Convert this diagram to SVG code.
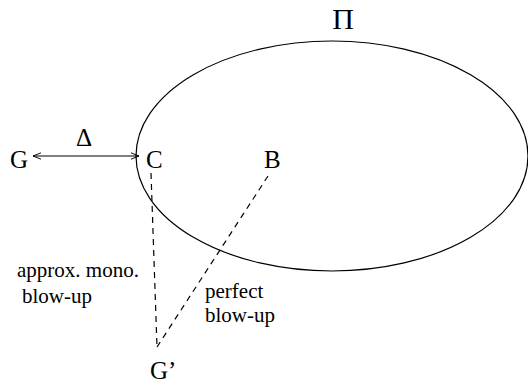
<svg xmlns="http://www.w3.org/2000/svg" width="528" height="387" viewBox="0 0 528 387">
<style>
.t{font-family:"Liberation Serif","Times New Roman",serif;fill:#000}
.big{font-size:25px}
.lbl{font-size:21px}
.ln{stroke:#000;stroke-width:1.2;fill:none}
.dash{stroke:#000;stroke-width:1.2;fill:none;stroke-dasharray:6,5}
</style>
<defs>
<marker id="ah" viewBox="0 0 10 10" refX="10" refY="5" markerWidth="8" markerHeight="8" orient="auto-start-reverse" markerUnits="userSpaceOnUse">
<path d="M0,1 L10,5 L0,9" fill="none" stroke="#000" stroke-width="1.2"/>
</marker>
</defs>
<rect width="528" height="387" fill="#fff"/>
<g id="Pi">
<ellipse class="ln" cx="332" cy="156" rx="196" ry="115"/>
<text class="t" x="343" y="29" font-size="30" text-anchor="middle">Π</text>
</g>
<g id="G"><text class="t big" x="10" y="168">G</text></g>
<g id="C"><text class="t big" x="146" y="168">C</text></g>
<g id="B"><text class="t big" x="264" y="168">B</text></g>
<g id="Gp"><text class="t big" x="150" y="379">G’</text></g>
<g id="connectors">
<line class="ln" x1="33" y1="156" x2="139" y2="156" marker-start="url(#ah)" marker-end="url(#ah)"/>
<text class="t big" x="84" y="146" text-anchor="middle">Δ</text>
<line class="dash" x1="151" y1="173" x2="157" y2="347"/>
<line class="dash" x1="268" y1="176" x2="157" y2="347"/>
<text class="t lbl" x="17" y="277">approx. mono.</text>
<text class="t lbl" x="22" y="303">blow-up</text>
<text class="t lbl" x="205" y="298">perfect</text>
<text class="t lbl" x="205" y="322">blow-up</text>
</g>
</svg>
